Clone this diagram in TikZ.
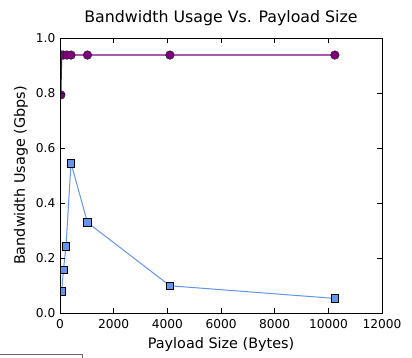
\documentclass[tikz,border=0pt]{standalone}
\usepackage{fontspec}
\setmainfont{DejaVu Sans}
\definecolor{plotpurple}{HTML}{800080}
\definecolor{plotblue}{HTML}{6495ED}
\begin{document}
\begin{tikzpicture}[x=1pt,y=1pt,
  frame/.style={line width=0.9pt,black},
  tickline/.style={line width=0.8pt,black},
  ticklab/.style={inner sep=0pt,font=\fontsize{12.2}{14}\selectfont},
  axlab/.style={inner sep=0pt,font=\fontsize{14.4}{17}\selectfont},
  titlelab/.style={inner sep=0pt,font=\fontsize{15.8}{19}\selectfont},
  purpleline/.style={plotpurple,line width=1.1pt},
  blueline/.style={plotblue,line width=1pt},
  dotmark/.style={circle,draw=black!85,line width=0.6pt,fill=plotpurple,minimum size=8.5pt,inner sep=0pt},
  sqmark/.style={rectangle,draw=black,line width=0.7pt,fill=plotblue,minimum size=7.5pt,inner sep=0pt},
  legendbox/.style={draw=black!60,line width=0.8pt,fill=white}]
\useasboundingbox (0,0) rectangle (412,358);
\fill[white] (0,0) rectangle (412,358);

% title
\node[titlelab] (title) at (221,339.5) {Bandwidth Usage Vs. Payload Size};

% plotting area: 0..12000 bytes by 0..1 Gbps
\begin{scope}[shift={(60pt,45pt)},x=0.0268333pt,y=275pt]
  % data points
  \coordinate (cp1) at (32,0.793);
  \coordinate (cp2) at (64,0.938);
  \coordinate (cp3) at (128,0.938);
  \coordinate (cp4) at (256,0.938);
  \coordinate (cp5) at (410,0.938);
  \coordinate (cp6) at (1024,0.938);
  \coordinate (cp7) at (4096,0.938);
  \coordinate (cp8) at (10240,0.938);
  \coordinate (cb1) at (64,0.079);
  \coordinate (cb2) at (128,0.156);
  \coordinate (cb3) at (224,0.243);
  \coordinate (cb4) at (410,0.545);
  \coordinate (cb5) at (1024,0.329);
  \coordinate (cb6) at (4096,0.099);
  \coordinate (cb7) at (10240,0.053);

  \begin{scope}
    \clip (0,0) rectangle (12000,1);
    \draw[blueline] (cb1) -- (cb2) -- (cb3) -- (cb4) -- (cb5) -- (cb6) -- (cb7);
    \foreach \i in {1,...,7} \node[sqmark] (mb\i) at (cb\i) {};
    \draw[purpleline] (cp1) -- (cp2) -- (cp3) -- (cp4) -- (cp5) -- (cp6) -- (cp7) -- (cp8);
    \foreach \i in {1,...,8} \node[dotmark] (mp\i) at (cp\i) {};
  \end{scope}

  % frame and inward ticks
  \draw[frame] (0,0) rectangle (12000,1);
  \foreach \t in {2000,4000,...,10000} {
    \draw[tickline] (\t,0) -- ++(0,5pt);
    \draw[tickline] (\t,1) -- ++(0,-5pt);
  }
  \foreach \v in {0.2,0.4,0.6,0.8} {
    \draw[tickline] (0,\v) -- ++(5pt,0);
    \draw[tickline] (12000,\v) -- ++(-5pt,0);
  }

  % tick labels
  \foreach \t in {0,2000,...,12000}
    \node[ticklab,anchor=north] (xl\t) at ([yshift=-6pt]\t,0) {\t};
  \foreach \v/\l [count=\k] in {0/0.0,0.2/0.2,0.4/0.4,0.6/0.6,0.8/0.8,1/1.0}
    \node[ticklab,anchor=east] (yl\k) at ([xshift=-4.5pt]0,\v) {\l};

  % axis labels
  \node[axlab] (xlabel) at ([yshift=-32pt]6000,0) {Payload Size (Bytes)};
  \node[axlab,rotate=90] (ylabel) at ([xshift=-39pt]0,0.5) {Bandwidth Usage (Gbps)};
\end{scope}

% legend frame below the plot
\node[legendbox,minimum width=90pt,minimum height=20pt,anchor=north east] (legend) at (83,3.5) {};
\end{tikzpicture}
\end{document}
